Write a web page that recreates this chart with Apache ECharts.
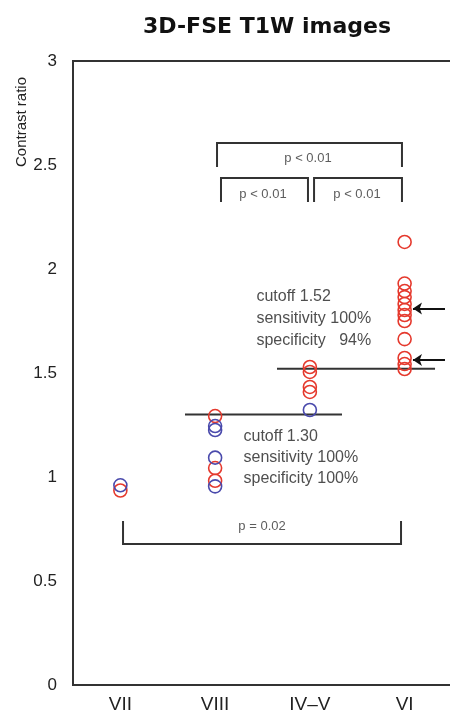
<!DOCTYPE html>
<html>
<head>
<meta charset="utf-8">
<script src="https://cdn.jsdelivr.net/npm/echarts@6/dist/echarts.min.js"></script>
<style>
html,body{margin:0;padding:0;background:#fff;}
#chart{width:450px;height:718px;}
</style>
</head>
<body>
<div id="chart"></div>
<script>
// ---- data ----
const categories = ['VII', 'VIII', 'IV\u2013V', 'VI'];
const yTicks = [0, 0.5, 1, 1.5, 2, 2.5, 3];
const redVII = [0.935];
const blueVII = [0.96];
const redVIII = [1.293, 1.043, 0.982];
const blueVIII = [1.245, 1.226, 1.093, 0.955];
const redIVV = [1.529, 1.505, 1.433, 1.409];
const blueIVV = [1.322];
const redVI = [2.13, 1.93, 1.894, 1.865, 1.832, 1.803, 1.779, 1.75, 1.663, 1.572, 1.543, 1.519];
const blueVI = [];
const cutoffValues = [1.30, 1.52];
const cutoffTexts = [
  ['cutoff 1.30', 'sensitivity 100%', 'specificity 100%'],
  ['cutoff 1.52', 'sensitivity 100%', 'specificity   94%']
];
const pTexts = ['p < 0.01', 'p < 0.01', 'p < 0.01', 'p = 0.02'];
const arrowValues = [1.81, 1.5625];

// ---- annotation placement (data space of hidden value axis -0.5..3.5) ----
const cutoffSpans = [[0.682, 2.339], [1.653, 3.321]];
const cutoffTextPos = [[1.294, [1.192, 1.091, 0.99]], [1.431, [1.865, 1.76, 1.654]]];
const brackets = [
  { x: [1.020, 2.972], top: 2.606, leg: 2.49 },
  { x: [1.062, 1.980], top: 2.438, leg: 2.322 },
  { x: [2.044, 2.972], top: 2.438, leg: 2.322 },
  { x: [0.028, 2.962], top: 0.678, leg: 0.788 }
];
const pTextPos = [[1.98, 2.534], [1.505, 2.36], [2.497, 2.36], [1.495, 0.76]];
const arrowSpan = [3.426, 3.088];

const RED = '#e5392d';
const BLUE = '#4a4aac';
const INK = '#333333';
const FONT = "'Liberation Sans', Arial, sans-serif";

function pts(catIdx, arr) { return arr.map(v => [catIdx, v]); }
const redData = [].concat(pts(0, redVII), pts(1, redVIII), pts(2, redIVV), pts(3, redVI));
const blueData = [].concat(pts(0, blueVII), pts(1, blueVIII), pts(2, blueIVV), pts(3, blueVI));

const lineData = [];
cutoffValues.forEach((c, i) => {
  lineData.push({ coords: [[cutoffSpans[i][0], c], [cutoffSpans[i][1], c]] });
});
brackets.forEach(b => {
  lineData.push({ coords: [[b.x[0], b.leg], [b.x[0], b.top], [b.x[1], b.top], [b.x[1], b.leg]] });
});

const leftTexts = [];
cutoffTexts.forEach((lines, i) => {
  lines.forEach((t, j) => {
    leftTexts.push({ value: [cutoffTextPos[i][0], cutoffTextPos[i][1][j]], name: t });
  });
});
const centerTexts = pTexts.map((t, i) => ({ value: pTextPos[i], name: t }));

const arrowData = arrowValues.map(v => ({ coords: [[arrowSpan[0], v], [arrowSpan[1], v]] }));

const chart = echarts.init(document.getElementById('chart'), null, { renderer: 'canvas' });
chart.setOption({
  animation: false,
  backgroundColor: '#ffffff',
  textStyle: { fontFamily: FONT },
  title: {
    text: '3D-FSE T1W images',
    left: 262, top: 11, textAlign: 'center',
    textStyle: { fontFamily: 'DejaVu Sans', fontWeight: 'bold', fontSize: 22, color: '#111' }
  },
  graphic: [{
    type: 'text', x: 22, y: 122, rotation: Math.PI / 2,
    style: { text: 'Contrast ratio', fontFamily: FONT, fontSize: 15, fill: '#222', align: 'center', verticalAlign: 'middle' }
  }],
  grid: {
    left: 73, right: -2, top: 61, bottom: 33,
    show: true, borderColor: INK, borderWidth: 2, backgroundColor: 'transparent',
    containLabel: false, outerBoundsMode: 'none'
  },
  xAxis: [{
    type: 'category', data: categories, boundaryGap: true,
    axisLine: { show: true, onZero: false, lineStyle: { color: INK, width: 2 } },
    axisTick: { show: false },
    splitLine: { show: false },
    axisLabel: { fontSize: 19, color: '#222', margin: 10, fontFamily: FONT }
  }, {
    type: 'value', min: -0.5, max: 3.5, show: false,
    axisLine: { show: false, onZero: false }, splitLine: { show: false }
  }],
  yAxis: [{
    type: 'value', min: yTicks[0], max: yTicks[yTicks.length - 1], interval: 0.5,
    axisLine: { show: true, onZero: false, lineStyle: { color: INK, width: 2 } },
    axisTick: { show: false },
    splitLine: { show: false },
    axisLabel: { fontSize: 17, color: '#222', margin: 16, fontFamily: FONT,
      formatter: v => String(v) }
  }],
  series: [
    {
      type: 'lines', coordinateSystem: 'cartesian2d', xAxisIndex: 1, yAxisIndex: 0,
      polyline: true, silent: true, z: 2,
      lineStyle: { color: INK, width: 2, opacity: 1 },
      data: lineData
    },
    {
      type: 'lines', coordinateSystem: 'cartesian2d', xAxisIndex: 1, yAxisIndex: 0,
      silent: true, z: 2, symbol: ['none', 'arrow'], symbolSize: [0, 9],
      lineStyle: { color: '#111', width: 2, opacity: 1 },
      data: arrowData
    },
    {
      type: 'scatter', xAxisIndex: 0, yAxisIndex: 0, symbol: 'circle', symbolSize: 13, z: 3,
      itemStyle: { color: 'rgba(0,0,0,0)', borderColor: RED, borderWidth: 1.6, opacity: 1 },
      data: redData
    },
    {
      type: 'scatter', xAxisIndex: 0, yAxisIndex: 0, symbol: 'circle', symbolSize: 13, z: 4,
      itemStyle: { color: 'rgba(0,0,0,0)', borderColor: BLUE, borderWidth: 1.6, opacity: 1 },
      data: blueData
    },
    {
      type: 'scatter', xAxisIndex: 1, yAxisIndex: 0, symbolSize: 1, silent: true, z: 5,
      itemStyle: { color: 'rgba(0,0,0,0)' },
      label: { show: true, position: 'right', distance: 0, formatter: '{b}',
        fontSize: 16, color: '#222', fontFamily: FONT },
      data: leftTexts
    },
    {
      type: 'scatter', xAxisIndex: 1, yAxisIndex: 0, symbolSize: 1, silent: true, z: 5,
      itemStyle: { color: 'rgba(0,0,0,0)' },
      label: { show: true, position: 'inside', formatter: '{b}',
        fontSize: 13, color: '#333', fontFamily: FONT },
      data: centerTexts
    }
  ]
});
</script>
</body>
</html>
